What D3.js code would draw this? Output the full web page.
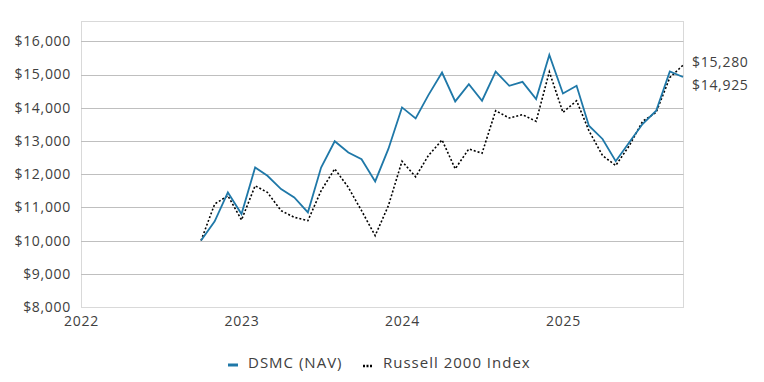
<!DOCTYPE html>
<html>
<head>
<meta charset="utf-8">
<script src="https://cdn.jsdelivr.net/npm/d3@7"></script>
<style>
  body { margin: 0; background: #fff; }
  svg text { font-family: "Open Sans", Lato, sans-serif; fill: #404040; letter-spacing: 0.7px; }
</style>
</head>
<body>
<svg id="chart" width="764" height="382"></svg>
<script>
// data
var startMonth = "2022-10-01";
var dsmc = [10000, 10580, 11450, 10800, 12200, 11950, 11550, 11300, 10850, 12200,
            12990, 12650, 12450, 11780, 12760, 14010, 13680, 14380, 15060, 14190,
            14710, 14210, 15090, 14660, 14780, 14260, 15590, 14430, 14660, 13460,
            13060, 12390, 12960, 13510, 13910, 15090, 14925];
var russell = [10000, 11100, 11350, 10620, 11650, 11450, 10900, 10700, 10600, 11500,
               12160, 11600, 10900, 10150, 11050, 12390, 11920, 12560, 13030, 12160,
               12760, 12630, 13910, 13690, 13790, 13590, 15080, 13860, 14210, 13310,
               12560, 12260, 12860, 13590, 13860, 14910, 15280];
var yTicks = [8000, 9000, 10000, 11000, 12000, 13000, 14000, 15000, 16000];
var xTicks = ["2022", "2023", "2024", "2025"];
var seriesNames = ["DSMC (NAV)", "Russell 2000 Index"];

// layout
var svg = d3.select('#chart');
var box = {left: 81, top: 21, right: 683, bottom: 307};
var start = d3.isoParse(startMonth);
var dates = dsmc.map(function(d, i) { return d3.timeMonth.offset(start, i); });

var x = d3.scaleTime()
    .domain([new Date(2022, 0, 1), dates[dates.length - 1]])
    .range([box.left, box.right]);
var y = d3.scaleLinear()
    .domain([8000, 16000])
    .range([box.bottom, 41.3]);

// frame
svg.append('rect')
    .attr('x', box.left + 0.5).attr('y', box.top + 0.5)
    .attr('width', box.right - box.left).attr('height', box.bottom - box.top)
    .attr('fill', 'none').attr('stroke', '#d9d9d9');

// grid
svg.append('g').selectAll('line')
    .data(yTicks.slice(1))
    .enter().append('line')
    .attr('x1', box.left).attr('x2', box.right + 0.5)
    .attr('y1', function(d) { return Math.round(y(d)) + 0.5; })
    .attr('y2', function(d) { return Math.round(y(d)) + 0.5; })
    .attr('stroke', '#bfbfbf');

// y axis
var yAxis = d3.axisLeft(y)
    .tickValues(yTicks)
    .tickSize(0)
    .tickPadding(10)
    .tickFormat(function(d) { return '$' + d3.format(',')(d); });
var gy = svg.append('g').attr('transform', 'translate(' + box.left + ',0)').call(yAxis);
gy.select('.domain').remove();
gy.selectAll('text').style('font-size', '14px').attr('fill', '#404040');

// x axis
var xAxis = d3.axisBottom(x)
    .tickValues(xTicks.map(function(t) { return new Date(+t, 0, 1); }))
    .tickSize(0)
    .tickPadding(9)
    .tickFormat(d3.timeFormat('%Y'));
var gx = svg.append('g').attr('transform', 'translate(0,' + box.bottom + ')').call(xAxis);
gx.select('.domain').remove();
gx.selectAll('text').style('font-size', '14px').attr('fill', '#404040');
svg.selectAll('g').attr('font-family', null);

// lines
var line = d3.line()
    .x(function(d, i) { return x(dates[i]); })
    .y(function(d) { return y(d); });

svg.append('path')
    .datum(russell)
    .attr('d', line)
    .attr('fill', 'none')
    .attr('stroke', '#000')
    .attr('stroke-width', 1.6)
    .attr('stroke-dasharray', '2,2');

svg.append('path')
    .datum(dsmc)
    .attr('d', line)
    .attr('fill', 'none')
    .attr('stroke', '#1f78a8')
    .attr('stroke-width', 1.8);

// end labels
var lastIdx = dsmc.length - 1;
svg.append('text')
    .attr('x', 692).attr('y', y(russell[lastIdx]) - 3)
    .attr('dy', '0.35em')
    .style('font-size', '14px')
    .text('$' + d3.format(',')(russell[lastIdx]));
svg.append('text')
    .attr('x', 692).attr('y', y(dsmc[lastIdx]) + 8)
    .attr('dy', '0.35em')
    .style('font-size', '14px')
    .text('$' + d3.format(',')(dsmc[lastIdx]));

// legend
var legend = svg.append('g').attr('transform', 'translate(228,363)');
legend.append('line')
    .attr('x1', 0).attr('x2', 10).attr('y1', 2).attr('y2', 2)
    .attr('stroke', '#1f78a8').attr('stroke-width', 3);
legend.append('text')
    .attr('x', 20).attr('y', 0).attr('dy', '0.35em')
    .style('font-size', '15px').style('letter-spacing', '1px')
    .text(seriesNames[0]);
legend.append('line')
    .attr('x1', 135).attr('x2', 145).attr('y1', 3).attr('y2', 3)
    .attr('stroke', '#000').attr('stroke-width', 2.5)
    .attr('stroke-dasharray', '2,1.5');
legend.append('text')
    .attr('x', 155).attr('y', 0).attr('dy', '0.35em')
    .style('font-size', '15px').style('letter-spacing', '1px')
    .text(seriesNames[1]);
</script>
</body>
</html>
